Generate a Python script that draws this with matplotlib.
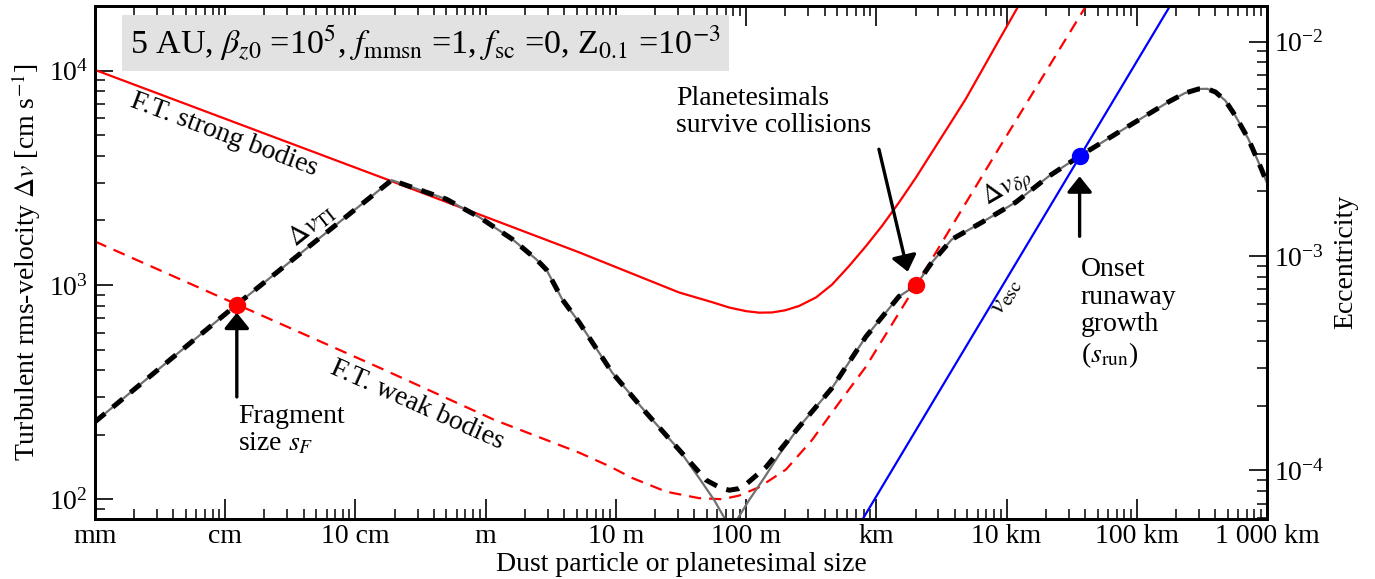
import numpy as np
import matplotlib
matplotlib.use('Agg')
import matplotlib.pyplot as plt
from matplotlib.ticker import FixedLocator, FixedFormatter, LogLocator, NullFormatter

plt.rcParams['font.family'] = ['Liberation Serif', 'DejaVu Serif']
plt.rcParams['mathtext.fontset'] = 'stix'

# ---------------- data (log10 of size in cm, log10 of velocity in cm/s) ----------------
logs_strong = [-1.000, 1.278, 2.719, 3.486, 3.739, 3.870, 4.000, 4.100, 4.200, 4.300, 4.406,
               4.537, 4.660, 4.790, 4.920, 5.043, 5.173, 5.304, 5.426, 5.557, 5.687, 5.810,
               5.940, 6.094]
logv_strong = [4.003, 3.484, 3.152, 2.965, 2.920, 2.895, 2.878, 2.871, 2.872, 2.882, 2.902,
               2.942, 3.002, 3.088, 3.181, 3.275, 3.384, 3.501, 3.618, 3.743, 3.868, 4.000,
               4.140, 4.304]

logs_weak = [-1.000, 1.186, 2.067, 2.719, 2.950, 3.126, 3.387, 3.639, 3.816, 3.946, 4.100,
             4.307, 4.506, 4.713, 4.920, 5.304, 5.940, 6.607]
logv_weak = [3.203, 2.614, 2.371, 2.218, 2.155, 2.100, 2.036, 2.006, 2.001, 2.018, 2.057,
             2.140, 2.277, 2.450, 2.619, 2.998, 3.636, 4.298]

logs_dv = [-1.000, 0.089, 1.278, 1.699, 1.952, 2.206, 2.390, 2.466, 2.589, 2.719, 2.972,
           3.233, 3.486, 3.693, 3.800, 3.870, 3.940, 4.000, 4.153, 4.406, 4.660, 4.920,
           5.173, 5.304, 5.426, 5.580, 5.810, 6.071, 6.324, 6.561, 6.937, 7.244, 7.370,
           7.474, 7.540, 7.604, 7.680, 7.758, 7.857, 7.957, 8.000]
logv_dv = [2.362, 2.909, 3.489, 3.400, 3.316, 3.213, 3.119, 3.072, 2.932, 2.825, 2.591,
           2.404, 2.231, 2.090, 2.055, 2.043, 2.050, 2.071, 2.151, 2.338, 2.520, 2.759,
           2.946, 2.998, 3.105, 3.213, 3.292, 3.386, 3.507, 3.601, 3.741, 3.854, 3.895,
           3.914, 3.915, 3.900, 3.860, 3.788, 3.681, 3.541, 3.475]

logs_grey = [-1.000, 0.089, 1.278, 1.699, 1.952, 2.206, 2.390, 2.466, 2.589, 2.719, 2.972,
             3.233, 3.486, 3.639, 3.755, 3.847, 3.885, 3.923, 4.023, 4.138, 4.253, 4.406,
             4.660, 4.920, 5.173, 5.304, 5.426, 5.580, 5.810, 6.071, 6.324, 6.561, 6.937,
             7.244, 7.370, 7.474, 7.540, 7.604, 7.680, 7.758, 7.857, 7.957, 8.000]
logv_grey = [2.362, 2.909, 3.489, 3.400, 3.316, 3.213, 3.119, 3.072, 2.932, 2.825, 2.591,
             2.404, 2.231, 2.100, 1.997, 1.899, 1.750, 1.899, 1.997, 2.100, 2.208, 2.338,
             2.520, 2.759, 2.946, 2.998, 3.105, 3.213, 3.292, 3.386, 3.507, 3.601, 3.741,
             3.854, 3.895, 3.914, 3.915, 3.900, 3.860, 3.788, 3.681, 3.541, 3.475]

logs_esc = [4.890, 7.252]
logv_esc = [1.903, 4.298]

logs_dots = [0.089, 5.304, 6.561]
logv_dots = [2.909, 2.998, 3.601]
dot_colors = ['red', 'red', 'blue']

xtick_pos = [1e-1, 1e0, 1e1, 1e2, 1e3, 1e4, 1e5, 1e6, 1e7, 1e8]
xtick_lab = ['mm', 'cm', '10 cm', 'm', '10 m', '100 m', 'km', '10 km', '100 km', '1 000 km']

v_kepler = 1.365e6  # cm/s at 5 AU, converts velocity to eccentricity

def p(a):
    return 10 ** np.asarray(a)

# ---------------- figure ----------------
fig = plt.figure(figsize=(13.75, 5.79), dpi=100)
ax = fig.add_axes([95/1375, 1 - 518.5/579, (1267-95)/1375, (518.5-6)/579])

ax.set_xscale('log')
ax.set_yscale('log')
xlim = (1e-1, 1e8)
ylim = (81.5, 2.0e4)

ax.plot(p(logs_strong), p(logv_strong), color='red', lw=1.6, zorder=3)
ax.plot(p(logs_weak), p(logv_weak), color='red', lw=1.6, ls=(0, (5.5, 3.6)), zorder=3)
ax.plot(p(logs_grey), p(logv_grey), color='#707070', lw=1.6, zorder=4)
ax.plot(p(logs_dv), p(logv_dv), color='black', lw=3.6, ls=(0, (2.6, 2.0)),
        dash_capstyle='butt', zorder=5)
ax.plot(p(logs_esc), p(logv_esc), color='blue', lw=1.6, zorder=3)
for s, v, c in zip(logs_dots, logv_dots, dot_colors):
    ax.plot(10**s, 10**v, 'o', color=c, ms=11.5, mec=c, zorder=7)

ax.set_xlim(*xlim)
ax.set_ylim(*ylim)

ax.xaxis.set_major_locator(FixedLocator(xtick_pos))
ax.xaxis.set_major_formatter(FixedFormatter(xtick_lab))
ax.xaxis.set_minor_locator(LogLocator(base=10, subs=np.arange(2, 10), numticks=30))
ax.xaxis.set_minor_formatter(NullFormatter())
ax.yaxis.set_minor_locator(LogLocator(base=10, subs=np.arange(2, 10), numticks=30))
ax.yaxis.set_minor_formatter(NullFormatter())

ax.tick_params(axis='x', which='major', direction='in', length=14.5, width=1.2,
               top=True, bottom=True, labelsize=20, pad=4)
ax.tick_params(axis='x', which='minor', direction='in', length=7.2, width=1.1,
               top=True, bottom=True)
ax.tick_params(axis='y', which='major', direction='in', length=13, width=1.2,
               left=True, right=False, labelsize=20, pad=5)
ax.tick_params(axis='y', which='minor', direction='in', length=7, width=1.1,
               left=True, right=False)
for sp in ax.spines.values():
    sp.set_linewidth(2.0)

ax.set_xlabel('Dust particle or planetesimal size', fontsize=20, labelpad=2)
ax.set_ylabel(r'Turbulent rms-velocity $\Delta v$ [cm s$^{-1}$]', fontsize=20, labelpad=4)

ax2 = ax.twinx()
ax2.set_yscale('log')
ax2.set_ylim(ylim[0] / v_kepler, ylim[1] / v_kepler)
ax2.yaxis.set_minor_locator(LogLocator(base=10, subs=np.arange(2, 10), numticks=30))
ax2.yaxis.set_minor_formatter(NullFormatter())
ax2.tick_params(axis='y', which='major', direction='in', length=13, width=1.2,
                labelsize=20, pad=5)
ax2.tick_params(axis='y', which='minor', direction='in', length=7, width=1.1)
ax2.set_ylabel('Eccentricity', fontsize=20, labelpad=6)
for sp in ax2.spines.values():
    sp.set_linewidth(2.0)

# ---------------- annotations ----------------
ax.text(0.282, 0.928,
        r'5 AU, $\beta_{z0}$ =10$^5$, $f_{\rm mmsn}$ =1, $f_{\rm sc}$ =0, Z$_{0.1}$ =10$^{-3}$',
        transform=ax.transAxes, ha='center', va='center', fontsize=24.5,
        bbox=dict(facecolor='#e2e2e2', edgecolor='none', pad=6), zorder=8)

ax.text(10**-0.011, 10**3.699, 'F.T. strong bodies', fontsize=20, rotation=-20.5,
        ha='center', va='center', rotation_mode='anchor')
ax.text(10**1.477, 10**2.441, 'F.T. weak bodies', fontsize=20, rotation=-24,
        ha='center', va='center', rotation_mode='anchor')
ax.text(10**0.664, 10**3.278, r'$\Delta v_{\rm TI}$', fontsize=20, rotation=38.5,
        ha='center', va='center', rotation_mode='anchor')
ax.text(10**6.002, 10**3.455, r'$\Delta v_{\delta\rho}$', fontsize=20, rotation=30,
        ha='center', va='center', rotation_mode='anchor')
ax.text(10**5.994, 10**2.946, r'$v_{\rm esc}$', fontsize=20, rotation=59,
        ha='center', va='center', rotation_mode='anchor')

ax.text(10**3.463, 10**3.807, 'Planetesimals\nsurvive collisions', fontsize=20,
        ha='left', va='center', linespacing=1.1)
ax.text(10**0.097, 10**2.324, 'Fragment\nsize $s_F$', fontsize=20,
        ha='left', va='center', linespacing=1.1)
ax.text(10**6.569, 10**2.867, 'Onset\nrunaway\ngrowth\n($s_{\\rm run}$)', fontsize=20,
        ha='left', va='center', linespacing=1.15)

arrow_kw = dict(arrowstyle='-|>,head_length=0.5,head_width=0.4', color='black',
                lw=2.4, mutation_scale=19, shrinkA=0, shrinkB=0)
ax.annotate('', xy=(10**0.089, 10**2.871), xytext=(10**0.089, 10**2.478),
            arrowprops=arrow_kw, zorder=6)
ax.annotate('', xy=(10**5.242, 10**3.062), xytext=(10**5.020, 10**3.633),
            arrowprops=arrow_kw, zorder=6)
ax.annotate('', xy=(10**6.561, 10**3.507), xytext=(10**6.561, 10**3.227),
            arrowprops=arrow_kw, zorder=6)

fig.savefig('out.png', dpi=100)
